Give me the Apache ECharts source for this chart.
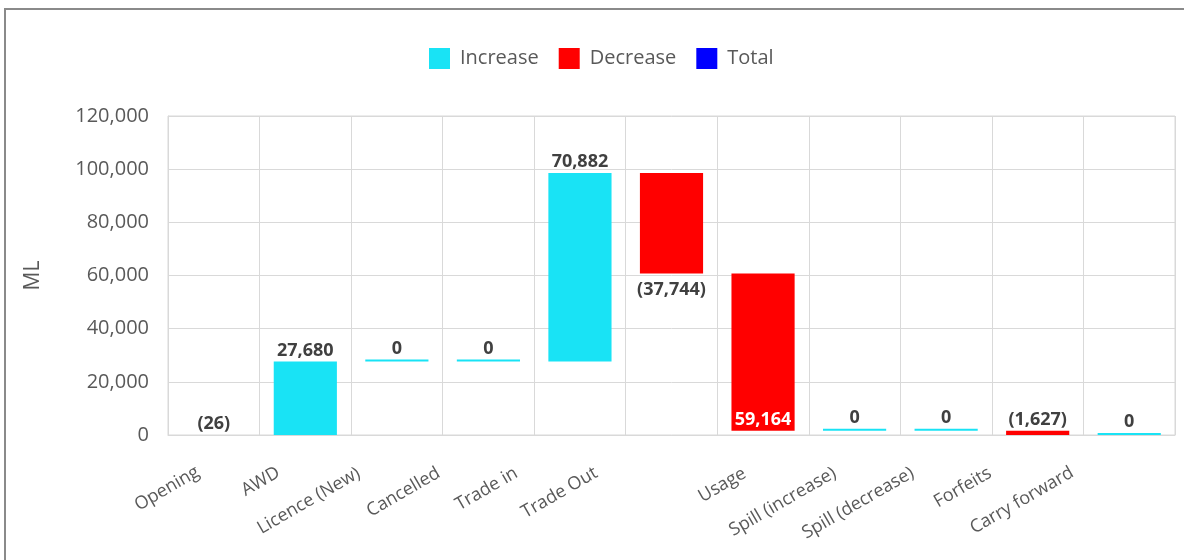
<!DOCTYPE html>
<html>
<head>
<meta charset="utf-8">
<script src="https://cdn.jsdelivr.net/npm/echarts@6/dist/echarts.min.js"></script>
<style>
  html, body { margin: 0; padding: 0; background: #fff; }
  #chart { width: 1184px; height: 560px; }
</style>
</head>
<body>
<div id="chart"></div>
<script>
const categories = ['Opening', 'AWD', 'Licence (New)', 'Cancelled', 'Trade in', 'Trade Out', 'Usage',
  'Spill (increase)', 'Spill (decrease)', 'Forfeits', 'Carry forward'];
const changes = [-26, 27680, 0, 0, 70882, -37744, -59164, 0, 0, -1627, 0];
const legendNames = ['Increase', 'Decrease', 'Total'];

const colors = { Increase: '#19e3f5', Decrease: '#ff0000', Total: '#0000ff' };
const fmt = (v) => v.toLocaleString('en-US');

// horizontal nudge (px) of each rotated category label, as laid out in the original
const labelNudge = [-15, -27, -38, -50, -63, -75, -18, -20, -33, -47, -57];

// waterfall: invisible base + increase / decrease pieces
let running = 0;
const base = [];
const inc = [];
const dec = [];
changes.forEach((v) => {
  const start = running;
  const end = running + v;
  running = end;
  base.push(Math.max(0, Math.min(start, end)));
  if (v >= 0) {
    inc.push(v);
    dec.push('-');
  } else {
    inc.push('-');
    dec.push(-v);
  }
});

// label placement tweaks for the decrease bars, by category
const decLabel = {
  'Trade Out': { position: 'bottom', distance: 7 },
  Usage: { position: 'insideBottom', color: '#fff', plain: true },
};

const labelStyle = { fontFamily: 'Open Sans', fontSize: 18, fontWeight: 'bold', color: '#404040' };

const decData = dec.map((v, i) => {
  const tweak = decLabel[categories[i]];
  if (v === '-' || !tweak) return v;
  return {
    value: v,
    label: { position: tweak.position, distance: tweak.distance || 2, color: tweak.color || '#404040' },
  };
});

// a rotated label (30deg, right aligned, bottom aligned) moved sideways only:
// right padding slides it back along its baseline, bottom padding lifts it
const LABEL_H = 18;
const xData = categories.map((c, i) => {
  const d = -labelNudge[i];
  const pr = Math.round(d * 0.866);
  const pb = Math.max(0, Math.round(d * 0.5 - LABEL_H / 2));
  return { value: c, textStyle: { verticalAlign: 'bottom', padding: [0, pr, pb, 0] } };
});

const chart = echarts.init(document.getElementById('chart'));
chart.setOption({
  animation: false,
  textStyle: { fontFamily: 'Open Sans' },
  graphic: [{
    type: 'rect',
    shape: { x: 5, y: 9, width: 1200, height: 600 },
    style: { fill: 'none', stroke: '#8a8a8a', lineWidth: 2 },
    silent: true,
  }],
  legend: {
    data: legendNames,
    top: 43,
    left: 424,
    icon: 'rect',
    itemWidth: 21,
    itemHeight: 21,
    itemGap: 20,
    textStyle: { fontSize: 20, color: '#595959', fontFamily: 'Open Sans', padding: [0, 0, 0, 5] },
  },
  grid: {
    left: 168,
    right: 9,
    top: 116,
    bottom: 125,
    show: true,
    borderColor: '#d9d9d9',
    borderWidth: 1,
  },
  xAxis: {
    type: 'category',
    data: xData,
    axisTick: { show: false },
    axisLine: { lineStyle: { color: '#d9d9d9' } },
    splitLine: { show: true, lineStyle: { color: '#d9d9d9', width: 1 } },
    axisLabel: {
      interval: 0,
      rotate: 30,
      margin: 37,
      fontSize: 18,
      color: '#595959',
      fontFamily: 'Open Sans',
    },
  },
  yAxis: {
    type: 'value',
    min: 0,
    max: 120000,
    interval: 20000,
    name: 'ML',
    nameLocation: 'middle',
    nameGap: 124,
    nameTextStyle: { fontSize: 21, color: '#595959', fontFamily: 'Open Sans' },
    axisLine: { show: true, lineStyle: { color: '#d9d9d9' } },
    splitLine: { lineStyle: { color: '#d9d9d9' } },
    axisLabel: { formatter: fmt, fontSize: 20, color: '#595959', margin: 19, fontFamily: 'Open Sans' },
  },
  series: [
    {
      name: 'base',
      type: 'bar',
      stack: 'wf',
      barWidth: '69%',
      data: base,
      itemStyle: { color: 'transparent' },
      emphasis: { disabled: true },
      silent: true,
    },
    {
      name: 'Increase',
      type: 'bar',
      stack: 'wf',
      barMinHeight: 2,
      data: inc,
      itemStyle: { color: colors.Increase },
      label: { show: true, position: 'top', distance: 2, formatter: (p) => fmt(p.value), ...labelStyle },
    },
    {
      name: 'Decrease',
      type: 'bar',
      stack: 'wf',
      data: decData,
      itemStyle: { color: colors.Decrease },
      label: {
        show: true,
        position: 'top',
        distance: 2,
        formatter: (p) => {
          const t = decLabel[p.name];
          return t && t.plain ? fmt(p.value) : '(' + fmt(p.value) + ')';
        },
        ...labelStyle,
      },
    },
    {
      name: 'Total',
      type: 'bar',
      stack: 'wf',
      data: [],
      itemStyle: { color: colors.Total },
    },
  ],
});
</script>
</body>
</html>
